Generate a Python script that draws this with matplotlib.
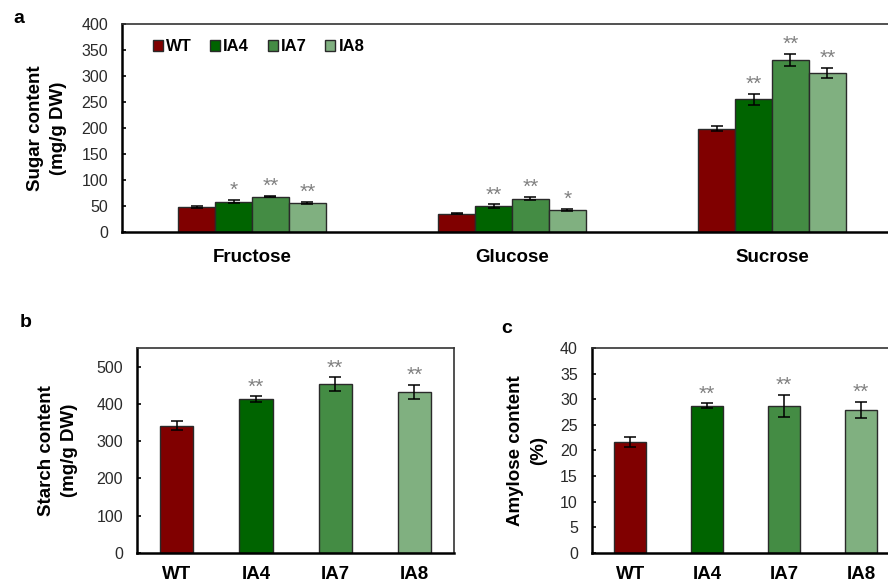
import matplotlib.pyplot as plt
import numpy as np

plt.rcParams['font.family'] = ['Liberation Sans', 'DejaVu Sans']

# data
lines = ['WT', 'IA4', 'IA7', 'IA8']
colors = ['#800000', '#006400', '#448C44', '#80B080']

sugars = ['Fructose', 'Glucose', 'Sucrose']
sugar_vals = {
    'WT':  [48, 35, 199],
    'IA4': [58, 50, 255],
    'IA7': [68, 64, 331],
    'IA8': [56, 43, 306],
}
sugar_err = {
    'WT':  [2, 1, 4],
    'IA4': [3, 3, 10],
    'IA7': [1.5, 3, 11],
    'IA8': [1.5, 2, 10],
}
sugar_sig = {
    'WT':  ['', '', ''],
    'IA4': ['*', '**', '**'],
    'IA7': ['**', '**', '**'],
    'IA8': ['**', '*', '**'],
}

starch = [342, 412, 453, 432]
starch_err = [12, 8, 18, 18]
starch_sig = ['', '**', '**', '**']

amylose = [21.7, 28.7, 28.7, 27.9]
amylose_err = [1.0, 0.5, 2.1, 1.6]
amylose_sig = ['', '**', '**', '**']

edge = '#2a2a2a'
star_kw = dict(ha='center', va='bottom', fontsize=15, color='#808080',
               textcoords='offset points')
err_kw = dict(ecolor='black', elinewidth=1.1, capsize=4, capthick=1.1)
lab_kw = dict(fontsize=13.5, fontweight='bold', linespacing=1.45)


def style_axes(ax):
    for s in ['left', 'bottom']:
        ax.spines[s].set_linewidth(1.8)
        ax.spines[s].set_color('black')
    for s in ['top', 'right']:
        ax.spines[s].set_linewidth(1.2)
        ax.spines[s].set_color('#333333')
    ax.tick_params(axis='y', direction='in', length=3, width=1.2, pad=10,
                   labelsize=11.5, labelcolor='#2a2a2a')
    ax.tick_params(axis='x', length=0)


fig = plt.figure(figsize=(8.88, 5.87), dpi=100)

# ---- panel a ----
ax1 = fig.add_axes([0.1374, 0.6048, 0.8784, 0.3543])
x = np.arange(len(sugars))
w = 0.142
for i, (ln, c) in enumerate(zip(lines, colors)):
    pos = x + (i - 1.5) * w
    ax1.bar(pos, sugar_vals[ln], w, color=c, edgecolor=edge, linewidth=1,
            yerr=sugar_err[ln], error_kw=err_kw, label=ln)
    for p, v, e, s in zip(pos, sugar_vals[ln], sugar_err[ln], sugar_sig[ln]):
        if s:
            ax1.annotate(s, (p, v + e), xytext=(0, 0), **star_kw)
ax1.set_xlim(-0.5, 2.5)
ax1.set_ylim(0, 400)
ax1.set_yticks(np.arange(0, 401, 50))
ax1.set_xticks(x)
ax1.set_xticklabels(sugars, fontsize=13.5, fontweight='bold')
ax1.tick_params(axis='x', pad=12)
ax1.set_ylabel('Sugar content\n(mg/g DW)', **lab_kw)
ax1.yaxis.set_label_coords(-0.071, 0.5)
style_axes(ax1)
ax1.legend(loc='center left', bbox_to_anchor=(0.02, 0.89), ncol=4,
           frameon=False, handlelength=0.6, handleheight=0.6,
           handletextpad=0.2, columnspacing=1.1,
           prop={'weight': 'bold', 'size': 12})

# ---- panel b ----
ax2 = fig.add_axes([0.1543, 0.0579, 0.3570, 0.3493])
xb = np.arange(len(lines))
ax2.bar(xb, starch, 0.42, color=colors, edgecolor=edge, linewidth=1,
        yerr=starch_err, error_kw=err_kw)
for p, v, e, s in zip(xb, starch, starch_err, starch_sig):
    if s:
        ax2.annotate(s, (p, v + e), xytext=(0, 0), **star_kw)
ax2.set_xlim(-0.5, 3.5)
ax2.set_ylim(0, 550)
ax2.set_yticks(np.arange(0, 501, 100))
ax2.set_xticks(xb)
ax2.set_xticklabels(lines, fontsize=13.5, fontweight='bold')
ax2.tick_params(axis='x', pad=9)
ax2.set_ylabel('Starch content\n(mg/g DW)', **lab_kw)
ax2.yaxis.set_label_coords(-0.186, 0.5)
style_axes(ax2)

# ---- panel c ----
ax3 = fig.add_axes([0.6663, 0.0579, 0.3466, 0.3493])
ax3.bar(xb, amylose, 0.42, color=colors, edgecolor=edge, linewidth=1,
        yerr=amylose_err, error_kw=err_kw)
for p, v, e, s in zip(xb, amylose, amylose_err, amylose_sig):
    if s:
        ax3.annotate(s, (p, v + e), xytext=(0, 0), **star_kw)
ax3.set_xlim(-0.5, 3.5)
ax3.set_ylim(0, 40)
ax3.set_yticks(np.arange(0, 41, 5))
ax3.set_xticks(xb)
ax3.set_xticklabels(lines, fontsize=13.5, fontweight='bold')
ax3.tick_params(axis='x', pad=9)
ax3.set_ylabel('Amylose content\n(%)', **lab_kw)
ax3.yaxis.set_label_coords(-0.146, 0.5)
style_axes(ax3)

# panel letters
fig.text(0.015, 0.969, 'a', fontsize=14, fontweight='bold', va='center')
fig.text(0.022, 0.450, 'b', fontsize=14, fontweight='bold', va='center')
fig.text(0.565, 0.441, 'c', fontsize=14, fontweight='bold', va='center')

fig.savefig('out.png', dpi=100)
